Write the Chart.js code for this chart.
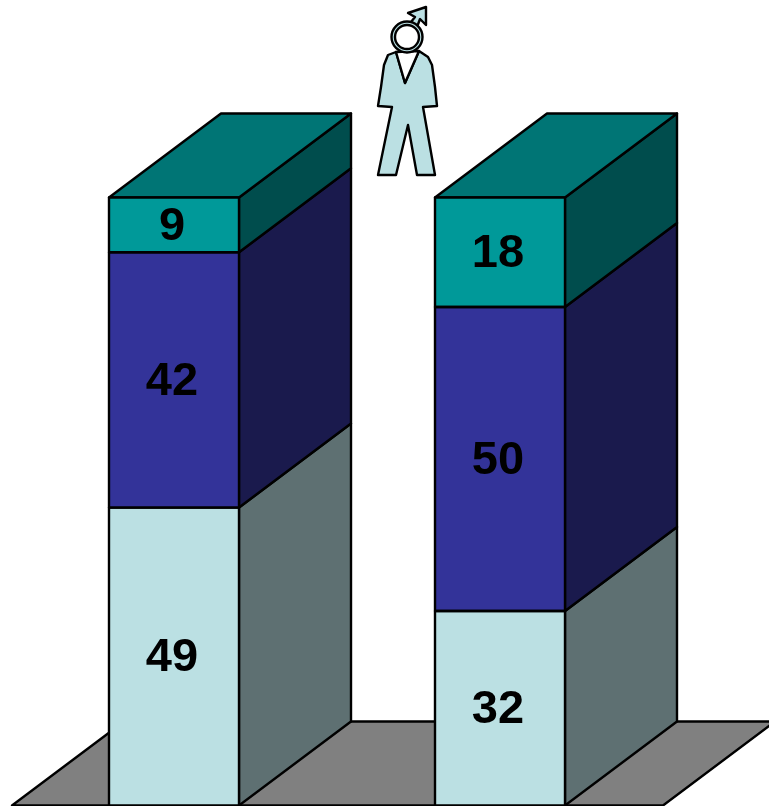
<!DOCTYPE html>
<html>
<head>
<meta charset="utf-8">
<style>html,body{margin:0;padding:0;background:#fff}canvas{display:block}</style>
<script src="https://cdn.jsdelivr.net/npm/chart.js@4"></script>
</head>
<body>
<canvas id="c" width="769" height="806"></canvas>
<script>
const categories = ['Column 1', 'Column 2'];
const bottomValues = [49, 32];
const middleValues = [42, 50];
const topValues = [9, 18];

const DX = 112, DY = -84, LINE = '#000000', LW = 2.4;
const FRONT = ['#BBE0E3', '#333399', '#009999'];
const SIDE = ['#5E7072', '#1A1A4D', '#004D4D'];
const TOP = '#007575', FLOOR = '#808080';

function poly(ctx, pts, fill, stroke, width) {
  ctx.beginPath();
  pts.forEach((p, i) => i ? ctx.lineTo(p[0], p[1]) : ctx.moveTo(p[0], p[1]));
  ctx.closePath();
  if (fill) { ctx.fillStyle = fill; ctx.fill(); }
  if (stroke) { ctx.strokeStyle = stroke; ctx.lineWidth = width || LW; ctx.lineJoin = 'round'; ctx.stroke(); }
}

const box3d = {
  id: 'box3d',
  beforeDatasetsDraw(chart) {
    const ctx = chart.ctx, base = chart.scales.y.getPixelForValue(0);
    const first = chart.getDatasetMeta(0).data;
    const L = first[0], R = first[1];
    const lx = L.x - L.width / 2, rx = R.x + R.width / 2;
    ctx.save();
    poly(ctx, [[lx - 97, base], [lx + 15, base + DY], [rx + 210, base + DY], [rx + 98, base]], FLOOR, LINE, LW);
    chart.data.datasets.forEach((ds, d) => {
      chart.getDatasetMeta(d).data.forEach(b => {
        const x = b.x + b.width / 2;
        poly(ctx, [[x, b.y], [x + DX, b.y + DY], [x + DX, b.base + DY], [x, b.base]], SIDE[d], LINE, LW);
      });
    });
    chart.getDatasetMeta(2).data.forEach(b => {
      const a = b.x - b.width / 2, z = b.x + b.width / 2;
      poly(ctx, [[a, b.y], [a + DX, b.y + DY], [z + DX, b.y + DY], [z, b.y]], TOP, LINE, LW);
    });
    ctx.restore();
  },
  afterDatasetsDraw(chart) {
    const ctx = chart.ctx;
    ctx.save();
    ctx.font = 'bold 47px "Liberation Sans", Arial, sans-serif';
    ctx.textAlign = 'center';
    ctx.textBaseline = 'middle';
    chart.data.datasets.forEach((ds, d) => {
      chart.getDatasetMeta(d).data.forEach((b, i) => {
        const a = b.x - b.width / 2, z = b.x + b.width / 2;
        poly(ctx, [[a, b.y], [z, b.y], [z, b.base], [a, b.base]], null, LINE, LW);
        ctx.fillStyle = '#000000';
        ctx.fillText(String(ds.data[i]), b.x - 2, (b.y + b.base) / 2 + 2);
      });
    });
    // male figure
    const body = [[396,52],[388,55],[384,65],[381,87],[378,106],[392,107],[378,175],[396,175],[408,125],[417,175],[435,175],[423,107],[437,106],[435,87],[432,65],[428,57],[419,51],[405,83]];
    poly(ctx, body, FRONT[0], LINE, LW);
    poly(ctx, [[396,52],[405,83],[419,51]], '#FFFFFF', LINE, LW);
    poly(ctx, [[408,13],[426,7],[426,25],[420,19],[417,27],[411,22],[415,17]], FRONT[0], LINE, LW);
    ctx.beginPath(); ctx.arc(407, 37, 15.5, 0, Math.PI * 2);
    ctx.fillStyle = FRONT[0]; ctx.fill(); ctx.strokeStyle = LINE; ctx.lineWidth = LW; ctx.stroke();
    ctx.beginPath(); ctx.arc(407, 37, 12, 0, Math.PI * 2);
    ctx.fillStyle = '#FFFFFF'; ctx.fill(); ctx.stroke();
    ctx.restore();
  }
};

new Chart(document.getElementById('c'), {
  type: 'bar',
  data: {
    labels: categories,
    datasets: [
      { data: bottomValues, backgroundColor: FRONT[0] },
      { data: middleValues, backgroundColor: FRONT[1] },
      { data: topValues, backgroundColor: FRONT[2] }
    ]
  },
  options: {
    responsive: false,
    animation: false,
    layout: { padding: { left: 11, right: 106, top: 197.5, bottom: 0.5 } },
    datasets: { bar: { categoryPercentage: 1, barPercentage: 130 / 326, borderWidth: 0 } },
    plugins: { legend: { display: false }, tooltip: { enabled: false } },
    scales: {
      x: { stacked: true, display: false },
      y: { stacked: true, display: false, min: 0, max: 100 }
    }
  },
  plugins: [box3d]
});
</script>
</body>
</html>
